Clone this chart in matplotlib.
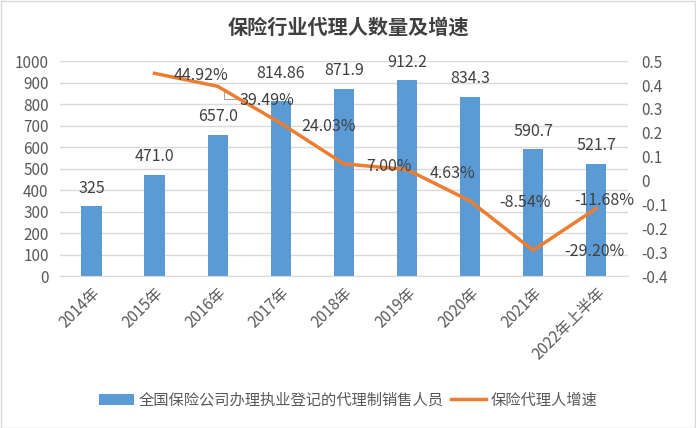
import matplotlib
matplotlib.use("Agg")
import matplotlib.pyplot as plt
import numpy as np

plt.rcParams['font.family'] = ['Noto Sans CJK SC', 'DejaVu Sans']

categories = ["2014年", "2015年", "2016年", "2017年", "2018年", "2019年", "2020年", "2021年", "2022年上半年"]
agents = [325, 471.0, 657.0, 814.86, 871.9, 912.2, 834.3, 590.7, 521.7]
agent_labels = ["325", "471.0", "657.0", "814.86", "871.9", "912.2", "834.3", "590.7", "521.7"]
growth = [None, 0.4492, 0.3949, 0.2403, 0.0700, 0.0463, -0.0854, -0.2920, -0.1168]
growth_labels = [None, "44.92%", "39.49%", "24.03%", "7.00%", "4.63%", "-8.54%", "-29.20%", "-11.68%"]

left_ticks = list(range(0, 1001, 100))
right_ticks = [0.5, 0.4, 0.3, 0.2, 0.1, 0, -0.1, -0.2, -0.3, -0.4]
right_tick_labels = ["0.5", "0.4", "0.3", "0.2", "0.1", "0", "-0.1", "-0.2", "-0.3", "-0.4"]

bar_color = "#5B9BD5"
line_color = "#ED7D31"
text_color = "#595959"
label_color = "#404040"
grid_color = "#D9D9D9"

fig = plt.figure(figsize=(6.96, 4.28), dpi=100)
fig.patch.set_facecolor("white")
border = plt.Rectangle((0.001, 0.001), 0.997, 0.997, transform=fig.transFigure,
                       fill=False, edgecolor="#D9D9D9", linewidth=1)
fig.add_artist(border)

ax = fig.add_axes([0.086, 0.355, 0.816, 0.502])
x = np.arange(len(categories))
ax.bar(x, agents, width=0.32, color=bar_color, zorder=2,
       label="全国保险公司办理执业登记的代理制销售人员")
ax.set_ylim(0, 1000)
ax.set_xlim(-0.5, len(categories) - 0.5)
ax.set_yticks(left_ticks)
ax.yaxis.grid(True, color=grid_color, linewidth=1, zorder=0)
ax.set_axisbelow(True)
for s in ax.spines.values():
    s.set_visible(False)
ax.spines['bottom'].set_visible(True)
ax.spines['bottom'].set_color(grid_color)
ax.tick_params(axis='both', length=0, colors=text_color, labelsize=11)
ax.set_xticks(x)
ax.set_xticklabels(categories, rotation=45, ha='right', rotation_mode='anchor')
ax.tick_params(axis='x', pad=6)
ax.tick_params(axis='y', pad=8)

bar_offsets = [84, 84, 84, 130, 84, 84, 84, 84, 84]
for xi, v, lab, off in zip(x, agents, agent_labels, bar_offsets):
    ax.text(xi, v + off, lab, ha='center', va='center', fontsize=11.5, color=label_color)

ax2 = ax.twinx()
gx = [xi for xi, g in zip(x, growth) if g is not None]
gy = [g for g in growth if g is not None]
ax2.plot(gx, gy, color=line_color, linewidth=2.5, zorder=3, label="保险代理人增速")
ax2.set_ylim(-0.4, 0.5)
ax2.set_yticks(right_ticks)
ax2.set_yticklabels(right_tick_labels)
for s in ax2.spines.values():
    s.set_visible(False)
ax2.tick_params(axis='both', length=0, colors=text_color, labelsize=11)
ax2.tick_params(axis='y', pad=10)

offsets = {1: (0.3, -0.01), 2: (0.34, -0.06), 3: (0.32, -0.015), 4: (0.36, -0.01),
           5: (0.36, -0.015), 6: (0.46, -0.005), 7: (0.5, -0.005), 8: (0.12, 0.035)}
for i, (g, lab) in enumerate(zip(growth, growth_labels)):
    if g is None:
        continue
    dx, dy = offsets[i]
    ax2.text(i + dx, g + dy, lab, ha='left' if i != 8 else 'center', va='center',
             fontsize=11.5, color=label_color, zorder=4)
# leader line for 39.49%
ax2.plot([2.1, 2.1, 2.3], [0.385, 0.343, 0.343], color="#A6A6A6", linewidth=0.8)

fig.text(0.5, 0.937, "保险行业代理人数量及增速", ha='center', va='center',
         fontsize=14.5, fontweight='bold', color=label_color)

h1, l1 = ax.get_legend_handles_labels()
h2, l2 = ax2.get_legend_handles_labels()
fig.legend(h1 + h2, l1 + l2, loc='center', bbox_to_anchor=(0.5, 0.065), ncol=2,
           frameon=False, fontsize=11, labelcolor=text_color, handlelength=2.3,
           columnspacing=0.5, handletextpad=0.3)

fig.savefig("out.png", dpi=100)
